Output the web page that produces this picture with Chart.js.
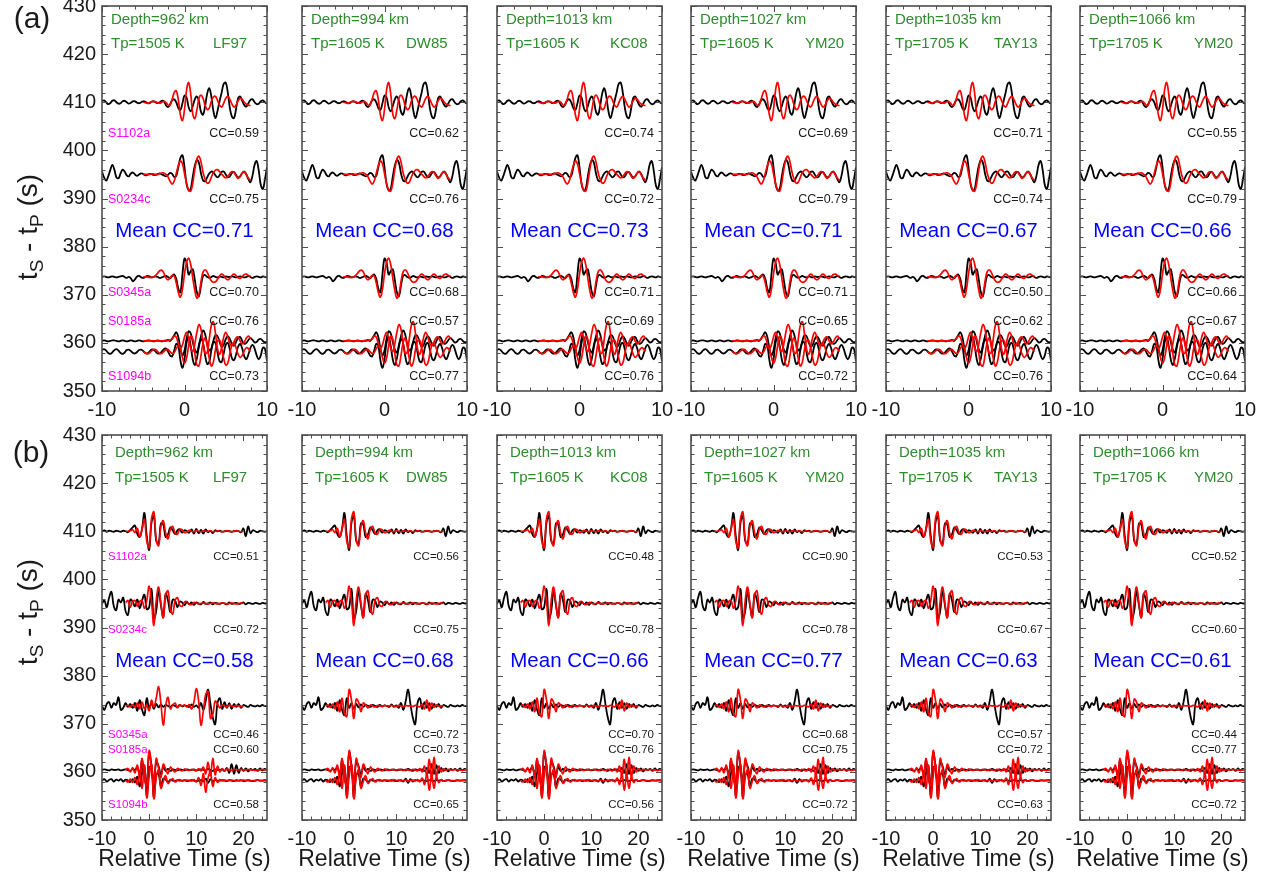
<!DOCTYPE html>
<html>
<head>
<meta charset="utf-8">
<script src="https://cdn.jsdelivr.net/npm/chart.js@4.4.1/dist/chart.umd.min.js"></script>
<style>
  html, body { margin: 0; padding: 0; background: #fff; }
  body { position: relative; width: 1266px; height: 884px; overflow: hidden;
         font-family: "Liberation Sans", Arial, sans-serif; color: #1a1a1a; }
  canvas { position: absolute; }
  .txt { position: absolute; white-space: nowrap; transform: translate(-50%, -50%); }
  .ytitle { position: absolute; white-space: nowrap; font-size: 28px;
            transform: translate(-50%, -50%) rotate(-90deg); }
  .ytitle sub { font-size: 19px; vertical-align: -6px; }
</style>
</head>
<body>
<script>
const FONT = '"Liberation Sans", Arial, sans-serif';
const GREEN = '#2e8b2e';

// panel headers
const depths = ['962', '994', '1013', '1027', '1035', '1066'];
const potentialTemps = ['1505', '1605', '1605', '1605', '1705', '1705'];
const models = ['LF97', 'DW85', 'KC08', 'YM20', 'TAY13', 'YM20'];
const stations = ['S1102a', 'S0234c', 'S0345a', 'S0185a', 'S1094b'];
const baselines = [410, 395, 373.7, 360.4, 358.2];

// cross-correlation values per panel, one per station
const meanCC_a = [0.71, 0.68, 0.73, 0.71, 0.67, 0.66];
const meanCC_b = [0.58, 0.68, 0.66, 0.77, 0.63, 0.61];
const cc_a = [
  [0.59, 0.75, 0.70, 0.76, 0.73],
  [0.62, 0.76, 0.68, 0.57, 0.77],
  [0.74, 0.72, 0.71, 0.69, 0.76],
  [0.69, 0.79, 0.71, 0.65, 0.72],
  [0.71, 0.74, 0.50, 0.62, 0.76],
  [0.55, 0.79, 0.66, 0.67, 0.64]
];
const cc_b = [
  [0.51, 0.72, 0.46, 0.60, 0.58],
  [0.56, 0.75, 0.72, 0.73, 0.65],
  [0.48, 0.78, 0.70, 0.76, 0.56],
  [0.90, 0.78, 0.68, 0.75, 0.72],
  [0.53, 0.67, 0.57, 0.72, 0.63],
  [0.52, 0.60, 0.44, 0.77, 0.72]
];

// axis tick labels
const yTicks = [350, 360, 370, 380, 390, 400, 410, 420, 430];
const xTicks_a = [-10, 0, 10];
const xTicks_b = [-10, 0, 10, 20];

// (a) observed traces, -10..10 s every 0.25 s (offset from baseline)
const obsA_S1102a = [
  0.2,0.4,0.0,-0.4,-0.2,0.3,0.4,0.0,-0.3,-0.2,
  0.2,0.3,0.0,-0.3,-0.1,0.2,0.2,-0.1,-0.2,0.0,
  0.2,0.1,-0.2,-0.2,0.1,0.2,0.0,-0.2,0.0,0.3,
  0.2,-0.6,-1.0,-0.4,0.4,0.6,0.0,-1.2,-1.6,-0.2,
  1.4,1.0,-1.0,-1.9,-0.8,0.6,1.2,0.2,-2.0,-2.6,
  -0.8,1.8,2.9,1.2,-1.8,-3.3,-1.8,0.2,2.0,3.8,
  4.1,2.0,-1.2,-3.0,-3.3,-1.4,0.8,1.2,0.3,-0.6,
  -0.9,-0.2,0.5,0.6,0.0,-0.4,-0.3,0.2,0.4,0.0,
  -0.3];
const obsA_S0234c = [
  0.6,-0.6,-1.3,-0.4,0.9,2.0,1.0,-0.6,-0.8,0.2,
  1.0,0.6,-0.2,-0.4,0.2,0.4,0.0,-0.3,0.0,0.2,
  0.1,-0.2,-0.1,0.1,0.1,-0.1,-0.1,0.1,0.2,0.0,
  -0.2,-0.4,-0.1,0.3,0.1,-0.5,-0.3,1.5,3.4,4.0,
  1.5,-2.0,-3.3,-3.0,-0.5,1.8,3.0,2.4,0.2,-1.2,
  -1.4,-0.6,0.2,0.6,0.4,-0.2,-0.6,-0.2,0.5,0.6,
  0.0,-0.6,-0.4,0.3,0.5,-0.1,-0.6,-0.4,0.3,0.6,
  0.0,-1.0,-1.6,-0.2,2.0,2.8,0.8,-2.2,-3.0,-1.0,
  1.5];
const obsA_S0345a = [
  0.0,0.1,0.0,-0.1,0.0,0.1,0.0,-0.1,0.0,0.1,
  0.2,0.0,-0.2,0.0,-0.3,-0.9,-0.5,0.1,0.2,-0.1,
  -0.2,0.0,0.2,0.1,-0.1,0.0,0.1,0.0,-0.2,-0.1,
  0.1,0.2,0.0,-0.3,0.2,0.5,-0.4,-2.4,-3.2,0.5,
  3.8,3.0,0.5,1.2,1.6,-0.6,-3.2,-4.0,-1.8,0.2,
  0.4,0.0,-0.2,0.0,0.2,0.0,-0.1,0.1,0.0,-0.1,
  0.1,0.0,0.0,0.1,0.0,-0.1,0.0,0.1,0.0,-0.1,
  0.0,0.2,0.0,-0.2,0.0,0.1,0.0,-0.1,0.1,0.0,
  -0.1];
const obsA_S0185a = [
  0.0,0.1,0.0,-0.1,0.0,0.1,0.1,0.0,-0.1,0.0,
  0.1,0.0,-0.1,0.0,0.1,0.0,-0.1,0.0,0.1,0.0,
  -0.1,0.0,0.1,0.1,0.0,-0.1,0.0,0.1,0.0,-0.1,
  0.0,0.1,0.2,0.0,0.5,1.2,1.8,0.8,-1.5,-3.0,
  -2.0,0.5,2.0,1.6,-0.2,-1.8,-2.4,-0.8,1.0,2.2,
  1.4,-0.6,-2.0,-1.6,0.0,1.2,1.0,-0.2,-1.2,-0.8,
  0.4,1.0,0.4,-0.6,-1.0,-0.2,0.6,0.8,0.0,-0.6,
  -0.4,0.2,0.6,0.2,-0.3,-0.2,0.3,0.4,0.0,-0.3,
  -0.1];
const obsA_S1094b = [
  0.3,0.5,0.2,-0.3,-0.5,-0.2,0.3,0.5,0.2,-0.3,
  -0.5,-0.2,0.3,0.4,0.1,-0.3,-0.4,-0.1,0.3,0.4,
  0.1,-0.3,-0.4,0.0,0.4,0.4,0.0,-0.4,-0.4,0.0,
  0.5,0.6,0.0,-0.8,-1.0,0.2,1.6,1.2,-1.8,-3.4,
  -1.6,1.8,3.0,1.2,-1.6,-2.8,-1.4,1.0,2.6,1.8,
  -0.8,-2.6,-2.2,0.2,2.0,1.8,-0.2,-2.0,-2.2,-0.4,
  1.4,1.8,0.4,-1.4,-1.8,-0.6,1.0,1.6,0.6,-1.0,
  -1.6,-0.6,0.8,1.4,0.6,-0.8,-1.6,-0.8,0.8,0.6,
  -2.0];

// (a) synthetic traces, -5..8 s every 0.25 s
const synA_S1102a = [
  0.0,-0.1,-0.2,-0.1,0.1,0.2,0.1,-0.1,-0.2,0.0,
  0.2,0.0,-0.6,-0.6,0.6,2.0,2.4,0.5,-2.6,-3.8,
  -1.5,2.5,4.1,1.8,-2.4,-3.4,-1.6,0.8,1.5,0.8,
  -0.6,-1.5,-1.2,0.2,1.1,1.2,0.4,-0.6,-1.0,-0.2,
  0.8,1.2,0.6,-0.4,-1.0,-0.6,0.3,0.8,0.6,0.0,
  -0.4,-0.6,-0.7];
const synA_S0234c = [
  0.0,0.0,0.0,0.0,0.1,0.1,0.0,0.0,0.2,0.3,
  0.3,0.0,-0.5,-1.4,-2.0,-1.4,0.2,1.8,2.8,2.2,
  0.2,-1.8,-3.2,-3.5,-1.8,1.0,3.2,3.8,2.6,0.4,
  -1.0,-1.8,-1.6,-0.6,0.4,0.9,1.0,0.6,0.1,-0.4,
  -0.7,-0.4,0.2,0.6,0.4,-0.3,-0.8,-0.4,0.3,0.5,
  -0.1,-0.8,-1.2];
const synA_S0345a = [
  0.0,0.0,0.0,-0.1,-0.1,0.0,0.3,0.8,1.3,1.4,
  0.8,-0.2,-0.6,-0.2,0.3,0.2,-1.2,-3.2,-4.2,-2.6,
  0.6,3.0,3.9,2.6,-0.2,-2.8,-4.4,-3.6,-1.0,1.0,
  1.5,1.0,0.0,-0.8,-1.1,-1.0,-0.5,0.2,0.6,0.3,
  -0.3,-0.6,-0.3,0.3,0.6,0.3,-0.2,-0.3,0.1,0.5,
  0.6,0.3,0.1];
const synA_S0185a = [
  0.0,0.0,0.0,0.0,0.0,0.0,0.0,0.0,0.0,0.0,
  0.0,0.0,0.1,0.2,0.4,1.0,0.8,-0.6,-1.6,-0.8,
  0.8,1.8,0.6,-1.4,-2.2,-0.6,1.8,3.4,2.4,-0.4,
  -2.6,-2.4,0.4,3.2,4.0,1.6,-1.6,-2.8,-1.4,0.8,
  1.8,0.8,-0.6,-1.0,-0.2,0.6,0.8,0.0,-0.6,-0.2,
  0.6,1.0,0.4];
const synA_S1094b = [
  0.0,-0.3,-0.5,-0.3,0.1,0.4,0.4,0.0,-0.4,-0.4,
  0.0,0.4,0.4,0.0,-0.4,-0.2,0.6,1.2,0.6,-1.2,
  -2.4,-1.4,1.2,3.2,2.6,-0.4,-2.8,-3.0,-0.8,1.8,
  2.8,1.2,-1.4,-3.0,-2.2,0.4,2.2,2.4,0.8,-1.4,
  -2.8,-2.4,-0.4,1.4,1.8,0.8,-0.6,-1.2,-0.8,0.2,
  0.8,0.6,0.0];

// (b) observed traces, -10..25 s every 0.5 s
const obsB_S1102a = [
  0.0,0.2,-0.1,0.1,0.0,-0.1,0.1,0.0,-0.1,0.1,
  0.0,-0.2,0.3,0.8,1.2,-0.6,-1.2,0.6,3.8,-1.0,
  -3.9,1.8,3.2,-2.0,-2.6,1.6,1.4,-1.2,-0.6,0.8,
  0.2,-0.6,0.2,0.4,-0.3,0.2,0.0,-0.3,0.4,-0.5,
  0.5,-0.4,0.3,-0.5,0.4,-0.2,0.1,-0.4,0.2,0.0,
  0.1,-0.1,0.0,0.1,0.0,-0.1,0.0,0.1,0.0,-0.2,
  0.6,-1.0,1.0,-0.4,0.2,0.0,-0.2,0.1,0.0,-0.1,
  0.0];
const obsB_S0234c = [
  0.0,0.6,-0.8,1.2,2.4,-0.6,-1.4,0.8,0.2,1.2,
  -1.6,-2.4,0.8,0.4,-0.6,0.8,-1.0,0.6,1.8,-1.2,
  -0.8,3.0,-3.2,-1.6,2.6,-0.4,-2.8,2.0,0.6,-1.8,
  0.8,0.6,-0.8,0.4,0.2,-0.4,0.3,-0.2,0.2,-0.3,
  0.2,0.0,-0.2,0.3,-0.1,0.0,0.2,-0.2,0.1,0.0,
  -0.1,0.1,0.0,-0.2,0.2,-0.1,0.0,0.1,-0.1,0.0,
  0.2,-0.2,0.1,0.0,-0.1,0.1,0.0,-0.1,0.1,0.0,
  0.0];
const obsB_S0345a = [
  0.0,-0.8,0.4,0.8,-0.4,0.6,0.2,1.8,-0.8,-0.4,
  0.6,-0.2,0.4,-0.4,0.6,-1.0,1.2,-0.8,-1.9,1.6,
  -0.4,0.6,-0.6,0.4,-0.3,0.3,-0.2,0.2,0.0,-0.2,
  0.2,0.0,-0.2,0.2,-0.1,0.1,0.0,-0.2,0.3,-0.2,
  0.1,-0.4,0.6,-0.8,1.0,3.4,0.4,-2.4,-3.8,0.6,
  1.6,-0.6,0.8,-0.4,0.6,-0.6,0.4,-0.2,0.4,-0.4,
  0.2,0.0,-0.2,0.2,0.0,-0.1,0.1,-0.1,0.2,0.0,
  0.0];
const obsB_S0185a = [
  0.0,0.1,0.0,-0.1,0.1,0.0,0.0,0.1,-0.1,0.0,
  0.1,0.0,-0.2,0.2,0.0,0.6,-1.0,2.0,-1.4,-2.8,
  3.6,1.0,-2.6,1.6,0.8,-1.0,0.6,-0.2,0.2,-0.2,
  0.1,0.0,-0.1,0.1,0.0,-0.1,0.1,0.0,0.0,0.1,
  -0.1,0.0,0.1,0.0,-0.1,0.2,0.0,-0.2,0.1,0.0,
  0.0,0.1,-0.2,0.4,-0.6,1.2,-0.8,1.0,-0.6,0.4,
  -0.2,0.3,-0.3,0.2,0.0,0.2,-0.2,0.3,-0.1,0.2,
  0.0];
const obsB_S1094b = [
  0.0,0.3,-0.2,0.1,0.3,-0.2,0.2,0.0,0.3,-0.2,
  0.2,0.0,-0.3,0.3,-0.4,0.8,-1.2,1.6,3.0,-3.4,
  2.8,2.4,-3.6,1.2,1.4,-1.2,0.4,0.2,-0.4,0.2,
  0.0,-0.1,0.1,0.0,0.0,0.1,-0.1,0.0,0.1,0.0,
  -0.1,0.0,0.1,-0.2,0.4,-0.5,0.3,-0.2,0.1,0.0,
  0.0,0.1,0.0,-0.1,0.1,0.0,-0.1,0.1,0.0,0.1,
  -0.1,0.0,0.1,0.0,-0.1,0.0,0.1,0.0,0.0,0.1,
  0.0];

// (b) synthetic traces, from -5 s every 0.5 s
const synB_S1102a = [
  0.0,0.0,0.1,0.3,-0.3,0.6,-1.2,0.4,2.4,-2.0,
  -3.4,2.6,4.0,-1.6,-3.0,1.0,2.2,-0.4,-1.6,0.4,
  1.0,-0.4,-0.6,0.4,0.3,-0.3,-0.1,0.2,0.0,-0.1,
  0.1,0.0,-0.1,0.1,0.0,0.0,0.1,-0.1,0.0,0.1,
  0.0,-0.1,0.0,0.1,0.0,-0.1,0.0,0.1,0.0,-0.1,
  0.0];
const synB_S0234c = [
  0.2,0.6,-0.8,0.4,0.6,-0.6,0.4,0.6,-1.0,0.6,
  3.6,0.4,-4.6,0.6,3.4,0.0,-3.0,1.8,2.6,-1.2,
  -2.2,0.6,1.2,-0.4,-0.6,0.3,0.4,-0.2,-0.2,0.2,
  0.1,-0.1,0.0,0.1,0.0,-0.1,0.0,0.1,0.0,-0.1,
  0.0,0.1,0.0,-0.1,0.0,0.1,0.0,-0.1,0.0,0.1,
  0.0];
const synB_S0345a_LF97 = [
  0.0,0.1,-0.2,0.3,-0.3,0.6,-0.6,0.8,-0.6,0.2,
  -1.0,1.2,-0.2,1.6,4.0,0.4,-4.0,0.0,1.8,-0.6,
  0.2,0.6,-0.4,0.2,0.0,0.2,-0.2,0.3,-0.6,0.8,
  3.6,1.0,-4.0,-1.0,2.4,3.0,-2.6,-1.8,1.0,0.4,
  -0.4,0.2,0.0,-0.2,0.2,0.0,-0.1,0.1,0.0,-0.1,
  0.0];
const synB_S0345a = [
  0.0,0.2,-0.3,0.4,-0.6,0.8,-1.2,1.6,-1.6,-2.2,
  3.4,1.2,-2.6,1.4,0.8,-1.2,0.6,0.2,-0.4,0.2,
  0.0,-0.2,0.1,0.0,-0.1,0.1,0.0,0.0,0.1,0.0,
  -0.1,0.1,0.0,-0.1,0.1,0.0,0.0,-0.1,0.1,0.0,
  -0.2,0.4,-0.6,1.2,-1.0,0.6,-0.3,0.2,-0.1,0.0,
  0.0];
const synB_S0185a_LF97 = [
  0.0,0.3,-0.4,0.5,-0.6,1.0,-1.4,2.4,-2.0,-3.2,
  4.0,0.8,-3.0,2.4,0.4,-1.6,1.2,0.2,-0.8,0.6,
  0.0,-0.4,0.3,0.0,-0.2,0.2,0.0,-0.1,0.1,0.0,
  -0.2,0.3,-0.2,0.6,-0.8,1.6,-1.2,2.4,-1.0,0.8,
  -0.4,0.3,-0.2,0.2,0.0,-0.1,0.1,0.0,0.0,0.1,
  0.0,0.0,0.1,0.0,0.0,-0.1,0.0,0.0,0.1,0.0,
  0.0];
const synB_S0185a = [
  0.0,0.3,-0.4,0.5,-0.6,1.0,-1.4,2.4,-2.0,-3.2,
  4.0,0.8,-3.0,2.4,0.4,-1.6,1.2,0.2,-0.8,0.6,
  0.0,-0.4,0.3,0.0,-0.2,0.2,0.0,-0.1,0.1,0.0,
  0.0,0.1,0.0,-0.1,0.1,0.0,-0.1,0.1,0.0,-0.2,
  0.3,-0.4,0.8,-1.2,2.2,-1.6,2.6,-1.4,0.8,-0.4,
  0.2,-0.1,0.1,0.0,0.0,0.1,0.0,0.0,-0.1,0.0,
  0.0];
const synB_S1094b_LF97 = [
  0.0,-0.3,0.3,-0.4,0.6,-0.8,1.2,-1.6,3.2,-3.6,
  0.8,3.4,-3.8,0.6,2.2,-1.6,-0.2,1.0,-0.6,0.0,
  0.4,-0.3,0.0,0.2,-0.1,0.0,0.1,0.0,-0.1,0.2,
  -0.3,0.6,-1.0,1.4,-2.4,0.6,1.6,-1.2,0.6,-0.4,
  0.2,-0.1,0.1,0.0,0.0,0.1,0.0,-0.1,0.0,0.0,
  0.1,0.0,0.0,-0.1,0.0,0.0,0.1,0.0,0.0,0.0,
  0.0];
const synB_S1094b = [
  0.0,-0.3,0.3,-0.4,0.6,-0.8,1.2,-1.6,3.2,-3.6,
  0.8,3.4,-3.8,0.6,2.2,-1.6,-0.2,1.0,-0.6,0.0,
  0.4,-0.3,0.0,0.2,-0.1,0.0,0.1,0.0,-0.1,0.2,
  0.0,0.1,-0.1,0.0,0.1,-0.1,0.0,0.1,-0.1,0.2,
  -0.3,0.5,-0.8,1.4,-2.0,1.2,-1.6,0.8,-0.4,0.2,
  -0.1,0.0,0.1,0.0,0.0,-0.1,0.0,0.0,0.1,0.0,
  0.0];

const rows = [
  {
    top: 6, xMin: -10, xMax: 10, xTicks: xTicks_a, xMinor: 2,
    obsStart: -10, obsStep: 0.25, synStart: -5, synStep: 0.25,
    obs: [obsA_S1102a, obsA_S0234c, obsA_S0345a, obsA_S0185a, obsA_S1094b],
    syn: () => [synA_S1102a, synA_S0234c, synA_S0345a, synA_S0185a, synA_S1094b],
    cc: cc_a, meanCC: meanCC_a,
    labelY: [403.6, 389.7, 370.4, 364.4, 353.1], meanY: 383.1,
    depthDy: 14, tpDy: 38, textDx: 9, smallFont: 12.5
  },
  {
    top: 435, xMin: -10, xMax: 25, xTicks: xTicks_b, xMinor: 2,
    obsStart: -10, obsStep: 0.5, synStart: -5, synStep: 0.5,
    obs: [obsB_S1102a, obsB_S0234c, obsB_S0345a, obsB_S0185a, obsB_S1094b],
    syn: col => col === 0
      ? [synB_S1102a, synB_S0234c, synB_S0345a_LF97, synB_S0185a_LF97, synB_S1094b_LF97]
      : [synB_S1102a, synB_S0234c, synB_S0345a, synB_S0185a, synB_S1094b],
    cc: cc_b, meanCC: meanCC_b,
    labelY: [404.7, 389.5, 367.8, 364.5, 353.1], meanY: 382.9,
    depthDy: 18, tpDy: 43, textDx: 13, smallFont: 11.5
  }
];

const lefts = [102, 302, 497, 691, 886, 1080];
const modelDx = [111, 104, 113, 114, 108, 114];
const PW = 165, PH = 385;

function trace(start, step, base, amps) {
  return amps.map((a, i) => ({ x: start + i * step, y: base + a }));
}

// box with inward ticks on all four sides
const framePlugin = {
  id: 'frame',
  afterDatasetsDraw(chart, args, o) {
    const { ctx, chartArea: a, scales: { x, y } } = chart;
    ctx.save();
    ctx.strokeStyle = '#4d4d4d';
    ctx.lineWidth = 1;
    ctx.beginPath();
    for (let v = o.xMin; v <= o.xMax; v += o.xMinor) {
      const px = Math.round(x.getPixelForValue(v)) + 0.5;
      const len = v % 10 === 0 ? 6 : 3.5;
      ctx.moveTo(px, a.bottom); ctx.lineTo(px, a.bottom - len);
      ctx.moveTo(px, a.top); ctx.lineTo(px, a.top + len);
    }
    for (let v = 350; v <= 430; v += 2) {
      const py = Math.round(y.getPixelForValue(v)) + 0.5;
      const len = v % 10 === 0 ? 6 : 3.5;
      ctx.moveTo(a.left, py); ctx.lineTo(a.left + len, py);
      ctx.moveTo(a.right, py); ctx.lineTo(a.right - len, py);
    }
    ctx.stroke();
    ctx.lineWidth = 1.6;
    ctx.strokeRect(a.left, a.top, a.right - a.left, a.bottom - a.top);
    ctx.restore();
  }
};

// header, station names and CC values
const annotatePlugin = {
  id: 'annotate',
  afterDraw(chart, args, o) {
    const { ctx, chartArea: a, scales: { y } } = chart;
    const r = o.row;
    ctx.save();
    ctx.textBaseline = 'middle';
    ctx.fillStyle = GREEN;
    ctx.textAlign = 'left';
    ctx.font = '15px ' + FONT;
    ctx.fillText('Depth=' + depths[o.col] + ' km', a.left + r.textDx, a.top + r.depthDy);
    ctx.fillText('Tp=' + potentialTemps[o.col] + ' K', a.left + r.textDx, a.top + r.tpDy);
    ctx.fillText(models[o.col], a.left + modelDx[o.col], a.top + r.tpDy);

    ctx.font = r.smallFont + 'px ' + FONT;
    r.labelY.forEach((ly, k) => {
      const py = y.getPixelForValue(ly);
      if (o.col === 0) {
        ctx.fillStyle = '#ff00ff';
        ctx.textAlign = 'left';
        ctx.fillText(stations[k], a.left + 6, py);
      }
      ctx.fillStyle = '#1a1a1a';
      ctx.textAlign = 'right';
      ctx.fillText('CC=' + r.cc[o.col][k].toFixed(2), a.right - 8, py);
    });

    ctx.fillStyle = '#0000ff';
    ctx.textAlign = 'center';
    ctx.font = '20.5px ' + FONT;
    ctx.fillText('Mean CC=' + r.meanCC[o.col].toFixed(2), (a.left + a.right) / 2,
                 y.getPixelForValue(r.meanY));
    ctx.restore();
  }
};

rows.forEach((r, ri) => {
  lefts.forEach((left, col) => {
    const padL = col === 0 ? 60 : 40, padR = 40, padT = 12, axisH = 42;
    const canvas = document.createElement('canvas');
    canvas.width = PW + padL + padR;
    canvas.height = PH + padT + axisH;
    canvas.style.left = (left - padL) + 'px';
    canvas.style.top = (r.top - padT) + 'px';
    document.body.appendChild(canvas);

    const datasets = [];
    const syn = r.syn(col);
    r.obs.forEach((amps, k) => {
      datasets.push({
        data: trace(r.obsStart, r.obsStep, baselines[k], amps),
        borderColor: '#000000', borderWidth: 1.8, order: 2
      });
    });
    syn.forEach((amps, k) => {
      datasets.push({
        data: trace(r.synStart, r.synStep, baselines[k], amps),
        borderColor: '#ff0000', borderWidth: 1.7, order: 1
      });
    });

    new Chart(canvas, {
      type: 'line',
      data: { datasets },
      plugins: [framePlugin, annotatePlugin],
      options: {
        responsive: false,
        animation: false,
        devicePixelRatio: 1,
        layout: { padding: { left: 0, right: padR, top: padT, bottom: 0 } },
        elements: { point: { radius: 0 }, line: { tension: 0.4, fill: false } },
        plugins: {
          legend: { display: false },
          tooltip: { enabled: false },
          frame: { xMin: r.xMin, xMax: r.xMax, xMinor: r.xMinor },
          annotate: { row: r, col }
        },
        scales: {
          x: {
            type: 'linear', min: r.xMin, max: r.xMax,
            afterBuildTicks: s => { s.ticks = r.xTicks.map(v => ({ value: v })); },
            afterFit: s => { s.height = axisH; s.paddingLeft = 0; s.paddingRight = 0; },
            grid: { display: false, drawTicks: false },
            border: { display: false },
            ticks: { color: '#1a1a1a', font: { family: FONT, size: 20 }, padding: 7,
                     maxRotation: 0, autoSkip: false }
          },
          y: {
            type: 'linear', min: 350, max: 430,
            afterBuildTicks: s => { s.ticks = yTicks.map(v => ({ value: v })); },
            afterFit: s => { s.width = padL; s.paddingTop = 0; s.paddingBottom = 0; },
            grid: { display: false, drawTicks: false },
            border: { display: false },
            ticks: { display: col === 0, color: '#1a1a1a', font: { family: FONT, size: 20 },
                     padding: 6, autoSkip: false }
          }
        }
      }
    });
  });
});

// figure-level labels
function addText(html, cls, x, y, size) {
  const d = document.createElement('div');
  d.className = cls;
  d.innerHTML = html;
  d.style.left = x + 'px';
  d.style.top = y + 'px';
  if (size) d.style.fontSize = size + 'px';
  document.body.appendChild(d);
}
addText('(a)', 'txt', 32, 18, 30);
addText('(b)', 'txt', 31, 452, 30);
addText('t<sub>S</sub> - t<sub>P</sub> (s)', 'ytitle', 30, 227);
addText('t<sub>S</sub> - t<sub>P</sub> (s)', 'ytitle', 30, 612);
lefts.forEach(left => addText('Relative Time (s)', 'txt', left + PW / 2, 858, 23));
</script>
</body>
</html>
